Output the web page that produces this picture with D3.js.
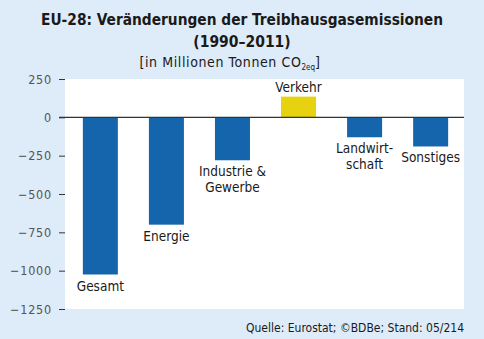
<!DOCTYPE html>
<html>
<head>
<meta charset="utf-8">
<script src="https://cdn.jsdelivr.net/npm/d3@7"></script>
<style>
    body { margin: 0; background: #deebf8; }
    svg { display: block; font-family: "DejaVu Sans Condensed", "DejaVu Sans", sans-serif; }
</style>
</head>
<body>
<div id="chart"></div>
<script>
// data
var categories = ["Gesamt", "Energie", "Industrie & Gewerbe", "Verkehr", "Landwirt-schaft", "Sonstiges"]
var label_lines = [["Gesamt"], ["Energie"], ["Industrie &", "Gewerbe"], ["Verkehr"], ["Landwirt-", "schaft"], ["Sonstiges"]]
var values = [-1025, -700, -280, 135, -130, -190]
var y_ticks = [250, 0, -250, -500, -750, -1000, -1250]

const width = 484, height = 339
const plot = { left: 65, right: 464, top: 79, bottom: 309 }

const svg = d3.select("#chart").append("svg")
    .attr("width", width)
    .attr("height", height)

svg.append("rect")
    .attr("width", width).attr("height", height)
    .attr("fill", "#deebf8")

// title
svg.append("text")
    .attr("x", 242).attr("y", 25)
    .attr("text-anchor", "middle")
    .attr("font-weight", "bold")
    .attr("font-size", 16)
    .attr("textLength", 402)
    .attr("lengthAdjust", "spacingAndGlyphs")
    .attr("fill", "#1a1a1a")
    .text("EU-28: Veränderungen der Treibhausgasemissionen")
svg.append("text")
    .attr("x", 242).attr("y", 47)
    .attr("text-anchor", "middle")
    .attr("font-weight", "bold")
    .attr("font-size", 15.5)
    .attr("fill", "#1a1a1a")
    .text("(1990–2011)")
var sub = svg.append("text")
    .attr("x", 230).attr("y", 67)
    .attr("text-anchor", "middle")
    .attr("font-size", 14)
    .attr("letter-spacing", 0.6)
    .attr("fill", "#1a1a1a")
sub.append("tspan").text("[in Millionen Tonnen CO")
sub.append("tspan").attr("font-size", 8).attr("dy", 3).attr("letter-spacing", 0).text("2eq")
sub.append("tspan").attr("dy", -3).text("]")

// plot background
svg.append("rect")
    .attr("x", plot.left).attr("y", plot.top)
    .attr("width", plot.right - plot.left)
    .attr("height", plot.bottom - plot.top)
    .attr("fill", "white")

const x = d3.scaleBand()
    .domain(categories)
    .range([67, 464])
    .paddingInner(0.47)
    .paddingOuter(0.24)

const y = d3.scaleLinear()
    .domain([-1250, 250])
    .range([plot.bottom, plot.top])

// y axis
const yAxis = d3.axisLeft(y)
    .tickValues(y_ticks)
    .tickSize(6)
    .tickPadding(7)
    .tickFormat(d => d3.format("d")(d).replace("-", "−"))

const gy = svg.append("g")
    .attr("transform", `translate(${plot.left},0)`)
    .call(yAxis)
gy.select(".domain").remove()
gy.selectAll(".tick line").attr("stroke", "#333")
gy.selectAll(".tick text")
    .attr("font-size", 12.5)
    .attr("letter-spacing", 0.8)
    .attr("fill", "#555")
    .attr("font-family", "\"DejaVu Sans Condensed\", sans-serif")

// bars
svg.selectAll("rect.bar")
    .data(values)
    .join("rect")
    .attr("class", "bar")
    .attr("x", (d, i) => x(categories[i]))
    .attr("width", x.bandwidth())
    .attr("y", d => y(Math.max(0, d)))
    .attr("height", d => Math.abs(y(d) - y(0)))
    .attr("fill", d => d > 0 ? "#e6d20e" : "#1565ad")

// zero line
svg.append("line")
    .attr("x1", plot.left - 6).attr("x2", plot.right)
    .attr("y1", y(0)).attr("y2", y(0))
    .attr("stroke", "#333")
    .attr("stroke-width", 1.2)

// bar labels
label_lines.forEach((lines, i) => {
    var v = values[i]
    var cx = x(categories[i]) + x.bandwidth() / 2
    var t = svg.append("text")
        .attr("text-anchor", "middle")
        .attr("font-size", 13.5)
        .attr("fill", "#1a1a1a")
    if (v > 0) {
        t.attr("x", cx).attr("y", y(v) - 5).text(lines[0])
    } else {
        lines.forEach((ln, j) => {
            t.append("tspan")
                .attr("x", cx)
                .attr("y", y(v) + 16 + j * 16)
                .text(ln)
        })
    }
})

// source
svg.append("text")
    .attr("x", 464).attr("y", 332)
    .attr("text-anchor", "end")
    .attr("font-size", 12)
    .attr("fill", "#1a1a1a")
    .text("Quelle: Eurostat; ©BDBe; Stand: 05/214")
</script>
</body>
</html>
